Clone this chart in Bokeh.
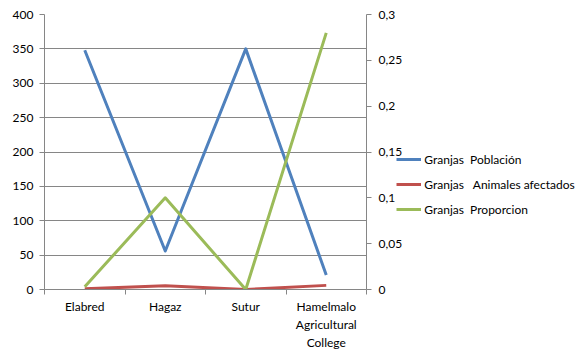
from bokeh.plotting import figure
from bokeh.models import (Range1d, LinearAxis, FixedTicker, Legend, LegendItem,
                          CustomJSTickFormatter)
from bokeh.embed import file_html
from bokeh.resources import INLINE

categories = ["Elabred", "Hagaz", "Sutur", "Hamelmalo\nAgricultural\nCollege"]
poblacion = [348, 56, 350, 21]
animales = [1, 5.5, 0, 6]
proporcion = [0.003, 0.1, 0.0, 0.28]
left_ticks = [0, 50, 100, 150, 200, 250, 300, 350, 400]
right_ticks = [0, 0.05, 0.1, 0.15, 0.2, 0.25, 0.3]
series_names = ["Granjas  Población", "Granjas   Animales afectados", "Granjas  Proporcion"]
colors = ["#4F81BD", "#C0504D", "#9BBB59"]

FONT = "Lato"
FS = "12px"
GRID = "#868686"

n = len(categories)
xs = [i + 0.5 for i in range(n)]

p = figure(frame_width=322, frame_height=275, output_backend="svg", toolbar_location=None,
           x_range=Range1d(0, n), y_range=Range1d(left_ticks[0], left_ticks[-1]),
           min_border_left=44, min_border_top=14, min_border_bottom=63,
           min_border_right=220)
p.extra_y_ranges = {"right": Range1d(right_ticks[0], right_ticks[-1])}
p.outline_line_color = None
p.background_fill_color = "white"
p.border_fill_color = "white"

r1 = p.line(xs, poblacion, line_width=3, color=colors[0], line_join="round")
r2 = p.line(xs, animales, line_width=3, color=colors[1], line_join="round")
r3 = p.line(xs, proporcion, line_width=3, color=colors[2], line_join="round",
            y_range_name="right")

# grid
p.xgrid.visible = False
p.ygrid.ticker = FixedTicker(ticks=left_ticks)
p.ygrid.grid_line_color = GRID
p.ygrid.grid_line_width = 1

# bottom axis
xa = p.xaxis[0]
xa.ticker = FixedTicker(ticks=xs, minor_ticks=list(range(n + 1)))
xa.major_label_overrides = {x: c for x, c in zip(xs, categories)}
xa.major_tick_line_color = None
xa.major_tick_out = 5
xa.major_tick_in = 0
xa.minor_tick_line_color = GRID
xa.minor_tick_out = 5
xa.minor_tick_in = 0
xa.axis_line_color = GRID
xa.major_label_standoff = 4
xa.major_label_text_font = FONT
xa.major_label_text_font_size = FS
xa.major_label_text_color = "black"

# left axis
ya = p.yaxis[0]
ya.ticker = FixedTicker(ticks=left_ticks)
ya.axis_line_color = GRID
ya.major_tick_line_color = GRID
ya.major_tick_out = 5
ya.major_tick_in = 0
ya.minor_tick_line_color = None
ya.major_label_standoff = 6
ya.major_label_text_font = FONT
ya.major_label_text_font_size = FS
ya.major_label_text_color = "black"

# right axis
ra = LinearAxis(y_range_name="right", ticker=FixedTicker(ticks=right_ticks),
                formatter=CustomJSTickFormatter(code="return tick.toString().replace('.', ',');"))
ra.axis_line_color = GRID
ra.major_tick_line_color = GRID
ra.major_tick_out = 5
ra.major_tick_in = 0
ra.minor_tick_line_color = None
ra.major_label_standoff = 7
ra.major_label_text_font = FONT
ra.major_label_text_font_size = FS
ra.major_label_text_color = "black"
p.add_layout(ra, "right")

legend = Legend(items=[LegendItem(label=series_names[0], renderers=[r1]),
                       LegendItem(label=series_names[1], renderers=[r2]),
                       LegendItem(label=series_names[2], renderers=[r3])],
                location=(-246, 70))
legend.border_line_color = None
legend.background_fill_alpha = 0
legend.padding = 0
legend.margin = 0
legend.spacing = 5
legend.glyph_width = 25
legend.glyph_height = 20
legend.label_height = 20
legend.label_standoff = 3
legend.label_text_font = FONT
legend.label_text_font_size = FS
legend.label_text_color = "black"
p.add_layout(legend, "right")

open("out.html", "w").write(file_html(p, INLINE))
